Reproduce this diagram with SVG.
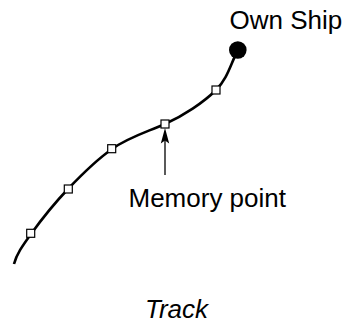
<svg xmlns="http://www.w3.org/2000/svg" width="346" height="322" viewBox="0 0 346 322">
<style>
.lbl{font-family:"Liberation Sans",Arial,sans-serif;fill:#000;font-size:26px}
.mp{fill:#fff;stroke:#000;stroke-width:1.2}
</style>
<rect width="346" height="322" fill="#fff"/>
<g id="connectors">
<path id="track" d="M238,50 C230.7,63.3 228.2,77.7 216,90 C203.8,102.3 183,116 165,124 C147,132 129,137 112,149 C96,160.3 81.5,174.8 68,189 C54.5,203.2 40,221.5 31,234 C22,246.5 16.7,254 14,264" fill="none" stroke="#000" stroke-width="2.6" stroke-linecap="butt"/>
<line x1="165" y1="175" x2="165" y2="138" stroke="#000" stroke-width="1.3"/>
<polygon points="165,128 169.2,143.5 165,140.5 160.8,143.5" fill="#000"/>
</g>
<g id="own-ship">
<circle cx="237.8" cy="50" r="8.8" fill="#000"/>
<text class="lbl" x="229.5" y="29">Own Ship</text>
</g>
<g id="memory-points">
<rect class="mp" x="212" y="86" width="8" height="8"/>
<rect class="mp" x="161" y="120" width="8" height="8"/>
<rect class="mp" x="107.7" y="144.7" width="8" height="8"/>
<rect class="mp" x="64.3" y="185" width="8" height="8"/>
<rect class="mp" x="26.7" y="229.3" width="8" height="8"/>
</g>
<g id="memory-point-label">
<text class="lbl" x="128.5" y="206.5">Memory point</text>
</g>
<g id="title">
<text class="lbl" x="145" y="317.5" font-style="italic">Track</text>
</g>
</svg>
